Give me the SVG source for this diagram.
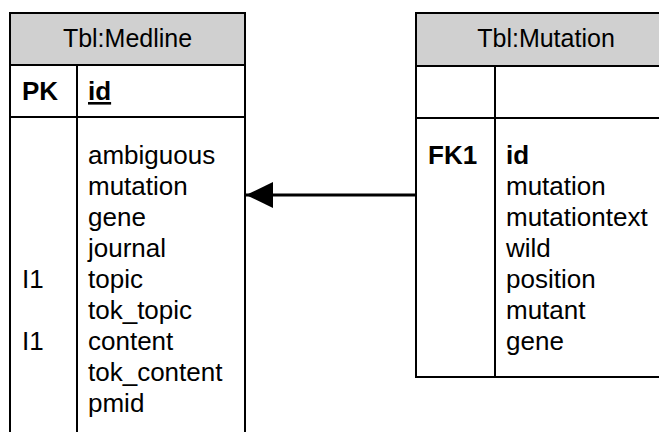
<svg xmlns="http://www.w3.org/2000/svg" width="659" height="432" viewBox="0 0 659 432">
<defs>
<style>
.box{fill:#fff;stroke:#000;stroke-width:2}
.hdr{fill:#d0d0d0;stroke:#000;stroke-width:2}
.ln{stroke:#000;stroke-width:2;fill:none}
.con{stroke:#000;stroke-width:3;fill:none}
text{font-family:"Liberation Sans",Arial,sans-serif;font-size:26px;fill:#000}
.t{text-anchor:middle;font-size:25px}
.b{font-weight:bold}
</style>
<marker id="arr" markerWidth="28" markerHeight="28" viewBox="0 0 28 28" refX="28" refY="14" orient="auto" markerUnits="userSpaceOnUse">
<path d="M28,14 L1,1 L1,27 Z" fill="#000"/>
</marker>
</defs>
<rect width="659" height="432" fill="#fff"/>
<g id="medline">
<rect class="box" x="10" y="13" width="235" height="430"/>
<rect class="hdr" x="10" y="13" width="235" height="52"/>
<line class="ln" x1="10" y1="117" x2="245" y2="117"/>
<line class="ln" x1="77" y1="65" x2="77" y2="440"/>
<text class="t" x="127.5" y="47">Tbl:Medline</text>
<text class="b" x="22" y="100">PK</text>
<text class="b" x="88" y="100" text-decoration="underline">id</text>
<text x="22" y="288">I1</text>
<text x="22" y="350">I1</text>
<text x="88" y="164">ambiguous</text>
<text x="88" y="195">mutation</text>
<text x="88" y="226">gene</text>
<text x="88" y="257">journal</text>
<text x="88" y="288">topic</text>
<text x="88" y="319">tok_topic</text>
<text x="88" y="350">content</text>
<text x="88" y="381">tok_content</text>
<text x="88" y="412">pmid</text>
</g>
<g id="mutation">
<rect class="box" x="416" y="13" width="270" height="364"/>
<rect class="hdr" x="416" y="13" width="270" height="53"/>
<line class="ln" x1="416" y1="118" x2="686" y2="118"/>
<line class="ln" x1="495" y1="66" x2="495" y2="377"/>
<text class="t" x="546" y="47">Tbl:Mutation</text>
<text class="b" x="428" y="164">FK1</text>
<text class="b" x="506" y="164">id</text>
<text x="506" y="195">mutation</text>
<text x="506" y="226">mutationtext</text>
<text x="506" y="257">wild</text>
<text x="506" y="288">position</text>
<text x="506" y="319">mutant</text>
<text x="506" y="350">gene</text>
</g>
<g id="connectors">
<line class="con" x1="416" y1="195" x2="246" y2="195" marker-end="url(#arr)"/>
</g>
</svg>
